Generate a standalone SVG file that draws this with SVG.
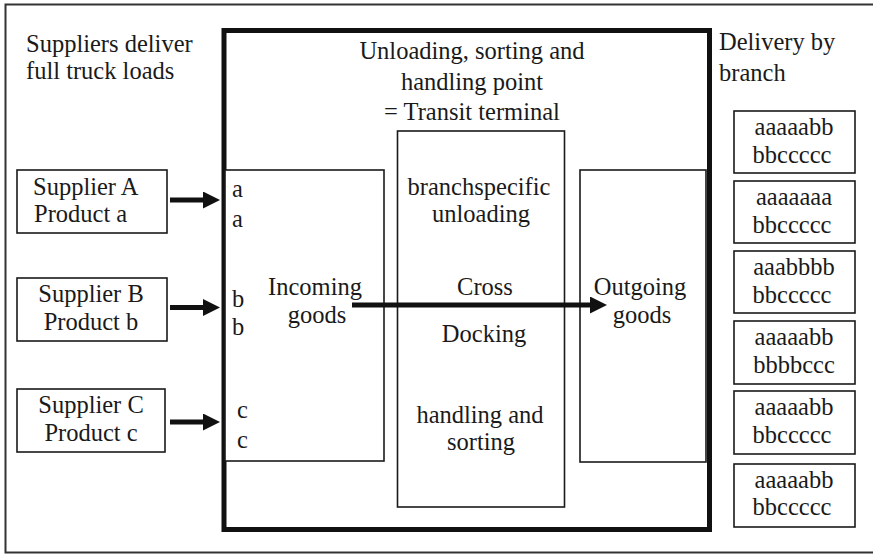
<svg xmlns="http://www.w3.org/2000/svg" width="873" height="555" viewBox="0 0 873 555">
<style>
text{font-family:"Liberation Serif","Times New Roman",serif;font-size:24.5px;fill:#1a1a1a}
.c{text-anchor:middle}
.box{fill:#fff;stroke:#1a1a1a;stroke-width:1.6}
.arrow{stroke:#111;stroke-width:5;fill:none;marker-end:url(#ah)}
</style>
<defs>
<marker id="ah" markerUnits="userSpaceOnUse" markerWidth="17" markerHeight="17" refX="5" refY="8.5" orient="auto">
<path d="M0,0 L17,8.5 L0,17 z" fill="#111"/>
</marker>
</defs>
<rect x="0" y="0" width="873" height="555" fill="#fff"/>
<rect x="5.5" y="4.5" width="880" height="548" fill="none" stroke="#333" stroke-width="2"/>

<g id="labels">
<text x="26" y="52">Suppliers deliver</text>
<text x="26" y="79">full truck loads</text>
<text x="719" y="50">Delivery by</text>
<text x="719" y="81">branch</text>
</g>

<g id="terminal">
<rect x="224" y="30.5" width="485.5" height="499" fill="#fff" stroke="#111" stroke-width="5"/>
<text class="c" x="472" y="59">Unloading, sorting and</text>
<text class="c" x="472" y="90">handling point</text>
<text class="c" x="472" y="120">= Transit terminal</text>
</g>

<g id="incoming">
<rect class="box" x="225" y="170" width="159" height="291"/>
<text x="232" y="197">a</text>
<text x="232" y="227">a</text>
<text x="232" y="307">b</text>
<text x="232" y="335">b</text>
<text x="237" y="418">c</text>
<text x="237" y="448">c</text>
<text class="c" x="315" y="295">Incoming</text>
<text class="c" x="317" y="323">goods</text>
</g>

<g id="crossdock">
<rect class="box" x="397.5" y="131" width="167" height="376"/>
<text class="c" x="479" y="195">branchspecific</text>
<text class="c" x="481" y="222">unloading</text>
<text class="c" x="485" y="295">Cross</text>
<text class="c" x="484" y="342">Docking</text>
<text class="c" x="480" y="423">handling and</text>
<text class="c" x="481" y="450">sorting</text>
</g>

<g id="outgoing">
<rect class="box" x="580" y="170" width="126" height="292"/>
<text class="c" x="640" y="295">Outgoing</text>
<text class="c" x="642" y="323">goods</text>
</g>

<g id="supplierA">
<rect class="box" x="17" y="170" width="150" height="63"/>
<text x="33" y="195">Supplier A</text>
<text x="34" y="222">Product a</text>
</g>
<g id="supplierB">
<rect class="box" x="17" y="278" width="150" height="63"/>
<text class="c" x="91" y="302">Supplier B</text>
<text class="c" x="91" y="330">Product b</text>
</g>
<g id="supplierC">
<rect class="box" x="17" y="389" width="148" height="63"/>
<text class="c" x="91" y="413">Supplier C</text>
<text class="c" x="91" y="441">Product c</text>
</g>

<g id="branch1">
<rect class="box" x="734" y="111" width="121" height="62"/>
<text class="c" x="794" y="135">aaaaabb</text>
<text class="c" x="792" y="163">bbccccc</text>
</g>
<g id="branch2">
<rect class="box" x="734" y="181" width="121" height="62"/>
<text class="c" x="794" y="205">aaaaaaa</text>
<text class="c" x="792" y="233">bbccccc</text>
</g>
<g id="branch3">
<rect class="box" x="734" y="251" width="121" height="62"/>
<text class="c" x="794" y="275">aaabbbb</text>
<text class="c" x="792" y="303">bbccccc</text>
</g>
<g id="branch4">
<rect class="box" x="734" y="321" width="121" height="63"/>
<text class="c" x="794" y="345">aaaaabb</text>
<text class="c" x="794" y="373">bbbbccc</text>
</g>
<g id="branch5">
<rect class="box" x="734" y="391" width="121" height="63"/>
<text class="c" x="794" y="415">aaaaabb</text>
<text class="c" x="792" y="443">bbccccc</text>
</g>
<g id="branch6">
<rect class="box" x="734" y="464" width="121" height="63"/>
<text class="c" x="794" y="488">aaaaabb</text>
<text class="c" x="792" y="515">bbccccc</text>
</g>

<g id="connectors">
<line class="arrow" x1="170" y1="200" x2="208" y2="200"/>
<line class="arrow" x1="170" y1="307.5" x2="208" y2="307.5"/>
<line class="arrow" x1="170" y1="422" x2="208" y2="422"/>
<line class="arrow" x1="352" y1="305" x2="595" y2="305"/>
</g>
</svg>
